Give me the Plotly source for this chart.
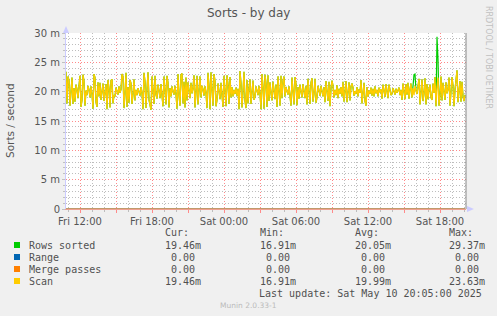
import plotly.graph_objects as go
import pandas as pd

# ---------------- data (values in milli-sorts / second) ----------------
start_time = "2025-05-09 10:50"
step = "5min"

scan = [
    23.4, 18.0, 22.6, 21.9,
    17.6, 19.8, 22.4, 17.9, 20.6, 18.3,
    21.2, 20.4, 18.9, 21.0,
    22.7, 17.4, 18.6, 22.9, 21.8, 17.6, 20.2,
    19.4, 21.0, 20.3, 19.0, 20.9, 19.6,
    17.1, 23.0, 22.4, 18.2, 17.4, 21.6, 19.2,
    21.5, 18.6, 20.1, 21.4, 18.4, 19.9, 21.3,
    17.0, 22.0, 20.5, 17.3, 21.9, 22.1, 18.0, 19.4,
    19.2, 20.7, 20.1, 19.5, 20.9, 19.8, 20.4,
    23.0, 22.6, 17.2, 19.7, 23.2, 17.4, 20.8,
    18.1, 22.0, 21.4, 17.9, 19.6, 22.1, 18.5, 20.3,
    19.4, 20.6, 20.0, 19.3, 20.8, 19.8,
    17.0, 23.2, 21.7, 17.2, 20.4, 23.3, 18.6, 17.4,
    16.91, 22.6, 20.3, 17.9, 22.7, 19.5,
    18.8, 21.2, 20.2, 18.9, 21.3, 19.9,
    17.5, 22.6, 19.3, 17.8, 22.7, 21.5, 17.3, 20.6,
    19.2, 20.9, 20.0, 19.5, 21.0, 19.6,
    17.1, 23.0, 19.4, 17.6, 22.9, 23.1, 18.0, 21.7, 17.3, 22.4,
    18.5, 21.6, 20.2, 18.9, 21.5, 19.7, 20.6,
    22.8, 17.3, 20.9, 22.7, 17.8, 19.6, 22.6,
    19.0, 21.0, 20.4, 19.3, 20.9, 19.8,
    17.2, 23.2, 21.0, 17.0, 23.3, 19.4, 17.6, 23.0, 21.8, 17.5,
    18.6, 21.4, 20.1, 18.7, 21.5, 19.9,
    17.4, 22.7, 19.8, 17.5, 22.8, 21.2, 17.9, 22.5, 19.0,
    20.8, 19.2, 20.3, 19.6, 20.7, 19.3, 20.5,
    17.0, 23.5, 21.4, 17.3, 20.0, 23.4, 18.4, 17.2,
    22.0, 18.0, 20.6, 22.1, 17.9, 19.5, 21.9, 18.6,
    19.1, 20.9, 20.2, 19.4, 21.0, 19.7,
    17.0, 23.0, 20.8, 17.1, 22.9, 21.4, 17.4, 22.8,
    18.4, 21.6, 19.8, 18.5, 21.7, 20.6, 18.7, 21.2,
    17.4, 22.6, 20.1, 17.6, 22.7, 18.9, 21.8, 22.6,
    19.2, 20.8, 20.1, 19.5, 20.9, 19.7,
    17.6, 22.4, 19.9, 17.8, 22.5, 21.3, 17.7, 20.8,
    18.8, 21.2, 20.0, 19.0, 21.3, 19.6, 18.9, 21.0,
    17.8, 22.2, 20.4, 17.9, 21.5, 22.3, 18.3, 19.7, 22.2, 18.1,
    19.0, 21.0, 20.2, 19.3, 21.0, 19.8, 19.2, 20.8,
    18.2, 21.8, 20.1, 18.4, 21.7, 17.5, 20.6, 21.9,
    21.0, 19.0, 20.3, 19.4, 21.1, 18.9, 20.5, 19.6, 20.8, 19.2,
    21.7, 18.3, 20.0, 21.8, 18.2, 19.6, 21.6, 18.5, 20.9, 21.4,
    20.7, 19.3, 20.1, 19.6, 20.8, 19.2, 20.4, 19.8,
    22.0, 18.0, 20.6, 21.5, 18.4, 17.6,
    20.8, 19.2, 20.2, 19.6, 20.7, 19.3, 20.5, 19.2, 20.9, 19.7, 20.3, 19.2, 20.7, 19.9, 20.4,
    18.8, 21.2, 20.3, 19.1, 21.3, 19.7, 18.9, 21.2, 20.0, 19.4,
    19.6, 20.6, 20.1, 19.5, 20.5, 19.8, 20.2, 20.7, 19.4, 20.3,
    18.6, 21.4, 20.0, 18.7, 21.3, 19.5, 21.5, 18.8, 20.4, 21.4, 19.0, 20.6,
    19.4, 21.0, 20.2, 19.6, 20.9,
    22.2, 17.8, 20.5, 22.1, 18.4, 19.7, 22.3, 17.8,
    21.3, 18.7, 20.4, 21.2, 19.0, 18.6, 21.4, 19.8,
    22.5, 17.5, 20.6, 22.4, 17.6, 19.3, 22.6,
    18.5, 21.5, 20.0, 18.6, 21.6, 19.7, 20.4,
    22.4, 17.6, 19.8, 22.5, 21.0, 17.5, 20.3, 22.1,
    23.63, 18.2, 20.4, 21.8, 18.3, 21.7, 19.2, 18.4, 19.46,
]
# sample index -> rows sorted value, where it differs from scan
rows_sorted_spikes = {348: 22.9, 349: 23.0, 371: 29.37, 372: 25.5}
rows_sorted = [rows_sorted_spikes.get(i, v) for i, v in enumerate(scan)]
range_vals = [0.0] * len(scan)
merge_passes = [0.0] * len(scan)

series_names = ["Rows sorted", "Range", "Merge passes", "Scan"]
series_colors = ["#00cc00", "#0066b3", "#ff8000", "#ffcc00"]
cur_vals = [19.46, 0.0, 0.0, 19.46]
min_vals = [16.91, 0.0, 0.0, 16.91]
avg_vals = [20.05, 0.0, 0.0, 19.99]
max_vals = [29.37, 0.0, 0.0, 23.63]

y_tickvals = [0, 5, 10, 15, 20, 25, 30]
y_ticktext = ["0", "5 m", "10 m", "15 m", "20 m", "25 m", "30 m"]
x_tickvals = ["2025-05-09 12:00", "2025-05-09 15:00", "2025-05-09 18:00", "2025-05-09 21:00",
              "2025-05-10 00:00", "2025-05-10 03:00", "2025-05-10 06:00", "2025-05-10 09:00",
              "2025-05-10 12:00", "2025-05-10 15:00", "2025-05-10 18:00"]
x_ticktext = ["Fri 12:00", "", "Fri 18:00", "", "Sat 00:00", "", "Sat 06:00", "", "Sat 12:00", "", "Sat 18:00"]
x_range = ["2025-05-09 10:50", "2025-05-10 20:10"]

times = pd.date_range(start_time, periods=len(scan), freq=step)

# ---------------- layout geometry ----------------
W, H = 497, 316
L, R, T, B = 66, 466, 33, 209


def px(x):
    return (x - L) / (R - L)


def py(y):
    return (B - y) / (B - T)


fig = go.Figure()
widths = [1.2, 1, 1, 1.3]
for name, vals, col, wd in zip(series_names, [rows_sorted, range_vals, merge_passes, scan], series_colors, widths):
    fig.add_trace(go.Scatter(x=times, y=vals, mode="lines", name=name,
                             line=dict(color=col, width=wd), showlegend=False,
                             hoverinfo="skip"))

FONT = "DejaVu Sans"
MONO = "DejaVu Sans Mono"
TXT = "#505050"

ann = []
ann.append(dict(text="Sorts - by day", x=px(248), y=py(13), font=dict(family=FONT, size=12, color="#555555")))
ann.append(dict(text="Sorts / second", x=px(10), y=py(120), textangle=-90,
                font=dict(family=FONT, size=10.5, color="#555555")))
ann.append(dict(text="RRDTOOL / TOBI OETIKER", x=px(489), y=py(57), textangle=90,
                font=dict(family=FONT, size=8, color="#c0c0c0")))

# legend
row_y = [245, 257, 269, 281]
cols_x = [163, 258, 353, 447]
headers = ["Cur:", "Min:", "Avg:", "Max:"]
for hx, h in zip(cols_x, headers):
    ann.append(dict(text=h, x=px(hx), y=py(233), xanchor="left",
                    font=dict(family=MONO, size=10, color=TXT)))


def fmt(v):
    return f"{v:.2f}m" if v != 0 else "\u00a00.00"


shapes = []
for i, name in enumerate(series_names):
    yy = row_y[i]
    shapes.append(dict(type="rect", xref="paper", yref="paper",
                       x0=px(14), x1=px(20), y0=py(yy - 3), y1=py(yy + 3),
                       fillcolor=series_colors[i], line=dict(width=0)))
    ann.append(dict(text=name, x=px(27), y=py(yy), xanchor="left",
                    font=dict(family=MONO, size=10, color=TXT)))
    for cx, arr in zip(cols_x, [cur_vals, min_vals, avg_vals, max_vals]):
        t = fmt(arr[i])
        ann.append(dict(text=t, x=px(cx), y=py(yy), xanchor="left",
                        font=dict(family=MONO, size=10, color=TXT)))

ann.append(dict(text="Last update: Sat May 10 20:05:00 2025", x=px(484), y=py(293), xanchor="right",
                font=dict(family=MONO, size=10, color=TXT)))
ann.append(dict(text="Munin 2.0.33-1", x=px(248), y=py(305),
                font=dict(family=FONT, size=7.5, color="#bbbbbb")))

for a in ann:
    a.setdefault("xanchor", "center")
    a.update(xref="paper", yref="paper", yanchor="middle", showarrow=False)

# axis decorations: right border and arrows
shapes.append(dict(type="line", xref="paper", yref="paper", x0=1, x1=1, y0=0, y1=1,
                   line=dict(color="#888888", width=1)))
shapes.append(dict(type="path", xref="paper", yref="paper",
                   path=f"M {px(63)} {py(33)} L {px(69)} {py(33)} L {px(66)} {py(26)} Z",
                   fillcolor="#ccccff", line=dict(width=0)))
shapes.append(dict(type="path", xref="paper", yref="paper",
                   path=f"M {px(467)} {py(206)} L {px(467)} {py(212)} L {px(474)} {py(209)} Z",
                   fillcolor="#ccccff", line=dict(width=0)))

MAJ = "#ff8a8a"
MIN = "#bdbdbd"
DASH = "1px,2px"

fig.update_layout(
    width=W, height=H,
    margin=dict(l=L, r=W - R, t=T, b=H - B),
    paper_bgcolor="#f0f0f0", plot_bgcolor="#ffffff",
    showlegend=False,
    annotations=ann, shapes=shapes,
    xaxis=dict(type="date", range=x_range, tickmode="array", tickvals=x_tickvals, ticktext=x_ticktext,
               showgrid=True, gridcolor=MAJ, griddash=DASH, gridwidth=1,
               ticks="outside", ticklen=3, tickcolor=MAJ,
               minor=dict(dtick=3600000, tick0="2025-05-09 00:00", showgrid=True, gridcolor=MIN,
                          griddash=DASH, gridwidth=1, ticks="outside", ticklen=2, tickcolor=MIN),
               showline=True, linecolor="#f0a090", linewidth=1, zeroline=False,
               tickfont=dict(family=FONT, size=10, color="#555555"), fixedrange=True),
    yaxis=dict(range=[0, 30], tickmode="array", tickvals=y_tickvals, ticktext=y_ticktext,
               showgrid=True, gridcolor=MAJ, griddash=DASH, gridwidth=1,
               ticks="outside", ticklen=3, tickcolor="#c0c0c0",
               minor=dict(dtick=1, tick0=0, showgrid=True, gridcolor=MIN, griddash=DASH,
                          gridwidth=1, ticks="outside", ticklen=2, tickcolor="#c0c0c0"),
               showline=True, linecolor="#ccccff", linewidth=1, zeroline=False,
               tickfont=dict(family=FONT, size=10, color="#555555"), fixedrange=True),
)

fig.write_html("out.html")
